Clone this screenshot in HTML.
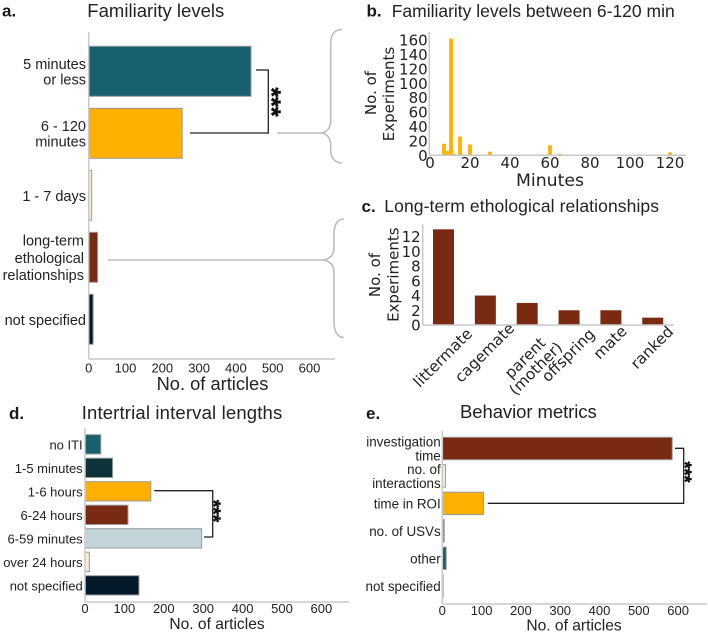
<!DOCTYPE html>
<html>
<head>
<meta charset="utf-8">
<title>Familiarity, interval and behavior metrics</title>
<style>
html,body{margin:0;padding:0;background:#fff;width:708px;height:634px;overflow:hidden}
svg{display:block}
text{font-family:"Liberation Sans",sans-serif;fill:#222}
.dv{font-family:"DejaVu Sans",sans-serif}
.panel{font-weight:700;font-size:17px;fill:#1a1a1a}
.title{font-size:18.5px}
.bracket{fill:none;stroke:#222;stroke-width:1.3}
.brace{fill:none;stroke:#bdbdbd;stroke-width:1.6}
.stars{font-weight:700;stroke:#111;stroke-width:.5;fill:#111}
</style>
</head>
<body>
<svg id="figure" xmlns="http://www.w3.org/2000/svg" width="708" height="634" viewBox="0 0 708 634">
  <text class="panel" x="2" y="16.5">a.</text>
  <text class="title" x="87.3" y="17" textLength="137">Familiarity levels</text>
  <text class="panel" x="366.5" y="16.5">b.</text>
  <text class="title" x="391.7" y="17" textLength="283" style="font-size:17.5px">Familiarity levels between 6-120 min</text>
  <text class="panel" x="361.5" y="212">c.</text>
  <text class="title" x="384.3" y="212" textLength="274.7" style="font-size:17.5px">Long-term ethological relationships</text>
  <text class="panel" x="9" y="419">d.</text>
  <text class="title" x="81.7" y="419" textLength="200.5">Intertrial interval lengths</text>
  <text class="panel" x="366" y="419">e.</text>
  <text class="title" x="460" y="418" textLength="136.7">Behavior metrics</text>

  <path class="bracket" d="M256 70H268.3V133H190"/>
  <text class="stars" transform="translate(263 102) rotate(90)" text-anchor="middle" style="font-size:25px">***</text>
  <path class="brace" d="M277 133H320C327 133 330.7 128 330.7 120V44C330.7 34 335 29.5 342 29.5M320 133C327 133 330.7 138 330.7 146V150C330.7 158 335 163 342 163"/>
  <path class="brace" d="M108 260H322C329 260 334 255 334 248V234C334 224 338 219 344 219M322 260C329 260 334 265 334 272V322C334 332 338 337.5 344 337.5"/>
  <path class="bracket" d="M154.3 490.7H212.7V537H204"/>
  <text class="stars" transform="translate(207 511) rotate(90)" text-anchor="middle" style="font-size:19px">***</text>
  <path class="bracket" d="M675 448.3H683.7V503.3H487.7"/>
  <text class="stars" transform="translate(678.5 472) rotate(90)" text-anchor="middle" style="font-size:18px">***</text>
</svg>
<script>
// Panel a
const aCategories = ["5 minutes|or less", "6 - 120|minutes", "1 - 7 days", "long-term|ethological|relationships", "not specified"];
const aValues = [441, 254, 8, 24, 12];
const aColors = ["#17606e", "#ffb000", "#fbecd3", "#7a2a10", "#041a2a"];
// Panel b
const bMinutes = [7, 9, 10.5, 12, 15, 20, 30, 40, 45, 60, 65, 80, 120];
const bCounts = [16, 6, 162, 2, 26, 15, 5, 1, 1, 14, 2, 1, 4];
const bYTicks = [0, 20, 40, 60, 80, 100, 120, 140, 160];
const bXTicks = [0, 20, 40, 60, 80, 100, 120];
// Panel c
const cCategories = ["littermate", "cagemate", "parent|(mother)", "offspring", "mate", "ranked"];
const cValues = [13, 4, 3, 2, 2, 1];
const cYTicks = [0, 2, 4, 6, 8, 10, 12];
// Panel d
const dCategories = ["no ITI", "1-5 minutes", "1-6 hours", "6-24 hours", "6-59 minutes", "over 24 hours", "not specified"];
const dValues = [40, 70, 167, 109, 296, 11, 137];
const dColors = ["#17606e", "#0e3239", "#ffb000", "#7a2a10", "#c3d5da", "#fbecd3", "#041a2a"];
// Panel e
const eCategories = ["investigation|time", "no. of|interactions", "time in ROI", "no. of USVs", "other", "not specified"];
const eValues = [585, 8, 105, 5, 10, 2];
const eColors = ["#7a2a10", "#fbecd3", "#ffb000", "#a88a84", "#17606e", "#041a2a"];
const articleTicks = [0, 100, 200, 300, 400, 500, 600];

const svg = document.getElementById('figure');
const NS = 'http://www.w3.org/2000/svg';
function make(tag, attrs, text) {
  const el = document.createElementNS(NS, tag);
  for (const k in attrs) el.setAttribute(k, attrs[k]);
  if (text !== undefined) el.textContent = text;
  svg.appendChild(el);
  return el;
}
function slug(s) {
  return String(s).toLowerCase().replace(/[^a-z0-9]+/g, '-').replace(/^-|-$/g, '');
}
function axisLines(id, x0, yTop, yBase, xEnd) {
  const v = make('line', {x1: x0, x2: x0, y1: yTop, y2: yBase, stroke: '#c9c9c9', 'stroke-width': 1.5});
  
  
  const h = make('line', {x1: x0, x2: xEnd, y1: yBase, y2: yBase, stroke: '#c9c9c9', 'stroke-width': 1.5});
  
  
}
function horizontalChart(p) {
  const xScale = v => p.x0 + v * p.pxPerUnit;
  const band = i => p.firstTop + i * p.pitch;
  p.values.forEach((val, i) => {
    const w = xScale(val) - p.x0;
    const bar = make('rect', {x: p.x0, y: band(i), width: w, height: p.barH, fill: p.colors[i], stroke: '#9a9a9a', 'stroke-width': 1});
    
    
    const lines = p.categories[i].split('|');
    const lh = lines.length > 2 ? 17.3 : p.lineH;
    const lx = lines.length > 2 ? p.labelX - 2 : p.labelX;
    const cy = band(i) + p.barH / 2;
    lines.forEach((line, j) => {
      const t = make('text', {x: lx, y: cy + (j - (lines.length - 1) / 2) * lh + p.labelSize * 0.38, 'text-anchor': 'end', 'font-size': p.labelSize}, line);
      
      
    });
  });
  axisLines(p.id, p.x0, p.yTop, p.yBase, p.xEnd);
  articleTicks.forEach(v => {
    const t = make('text', {x: xScale(v), y: p.tickY, 'text-anchor': 'middle', 'font-size': 13}, v);
    
    
  });
  const title = make('text', {x: p.titleX, y: p.titleY, 'text-anchor': 'middle', 'font-size': p.titleSize}, 'No. of articles');
  
  
}
horizontalChart({id: 'a', categories: aCategories, values: aValues, colors: aColors, x0: 88.7, pxPerUnit: 0.368,
  firstTop: 46.3, pitch: 62, barH: 50, yTop: 32, yBase: 359, xEnd: 335, labelX: 86, labelSize: 14.5, lineH: 15.7,
  tickY: 372.5, titleX: 212.5, titleY: 390, titleSize: 18.3});
horizontalChart({id: 'd', categories: dCategories, values: dValues, colors: dColors, x0: 85, pxPerUnit: 0.394,
  firstTop: 434.7, pitch: 23.5, barH: 19.3, yTop: 428, yBase: 602, xEnd: 349, labelX: 82.7, labelSize: 13, lineH: 14,
  tickY: 613, titleX: 217, titleY: 629, titleSize: 15.6});
horizontalChart({id: 'e', categories: eCategories, values: eValues, colors: eColors, x0: 442.3, pxPerUnit: 0.393,
  firstTop: 437.3, pitch: 27.45, barH: 22.4, yTop: 430.7, yBase: 604, xEnd: 706.7, labelX: 440.7, labelSize: 13.4, lineH: 13.7,
  tickY: 615, titleX: 574, titleY: 630.5, titleSize: 15.6});

// Panel b drawing
const bX = m => 430 + m * 2.0;
const bY = c => 155.3 - c * 0.72;
bMinutes.forEach((m, i) => {
  const bar = make('rect', {x: bX(m) - 1.9, y: bY(bCounts[i]), width: 3.8, height: 155.3 - bY(bCounts[i]), fill: '#ffb000'});
  
  
});
axisLines('b', 429.3, 32, 155.3, 686);
bYTicks.forEach(v => {
  const t = make('text', {x: 427.7, y: bY(v) + 5.5, 'text-anchor': 'end', 'font-size': 15, class: 'dv'}, v);
  
  
});
bXTicks.forEach(v => {
  const t = make('text', {x: bX(v), y: 168, 'text-anchor': 'middle', 'font-size': 15, class: 'dv'}, v);
  
  
});
const bXTitle = make('text', {x: 550, y: 186, 'text-anchor': 'middle', 'font-size': 17.3, class: 'dv'}, 'Minutes');


const bYT1 = make('text', {transform: 'translate(376 93) rotate(-90)', 'text-anchor': 'middle', 'font-size': 15, class: 'dv'}, 'No. of');


const bYT2 = make('text', {transform: 'translate(394 94) rotate(-90)', 'text-anchor': 'middle', 'font-size': 15, class: 'dv'}, 'Experiments');



// Panel c drawing
const cBand = i => 443.5 + i * 41.85;
const cY = v => 325 - v * 7.36;
cValues.forEach((v, i) => {
  const bar = make('rect', {x: cBand(i) - 10.5, y: cY(v), width: 21, height: 325 - cY(v), fill: '#7a2a10'});
  
  
  const lines = cCategories[i].split('|');
  const probe = lines.reduce((m, l) => Math.max(m, l.length), 0);
  const cx = lines.length > 1 ? cBand(i) + 3 : cBand(i) - 1;
  const cy = lines.length > 1 ? 363 : 332 + probe * 2.55;
  lines.forEach((line, j) => {
    const t = make('text', {x: cx, y: cy + (j - (lines.length - 1) / 2) * 15 + 5.5, 'text-anchor': 'middle', 'font-size': 15.3, class: 'dv',
      transform: 'rotate(-45 ' + cx + ' ' + cy + ')'}, line);
    
    
  });
});
axisLines('c', 422.7, 224.3, 325, 674);
cYTicks.forEach(v => {
  const t = make('text', {x: 420.7, y: cY(v) + 5.5, 'text-anchor': 'end', 'font-size': 15, class: 'dv'}, v);
  
  
});
const cYT1 = make('text', {transform: 'translate(380 275) rotate(-90)', 'text-anchor': 'middle', 'font-size': 15, class: 'dv'}, 'No. of');


const cYT2 = make('text', {transform: 'translate(398.7 274.7) rotate(-90)', 'text-anchor': 'middle', 'font-size': 15, class: 'dv'}, 'Experiments');


</script>
</body>
</html>
